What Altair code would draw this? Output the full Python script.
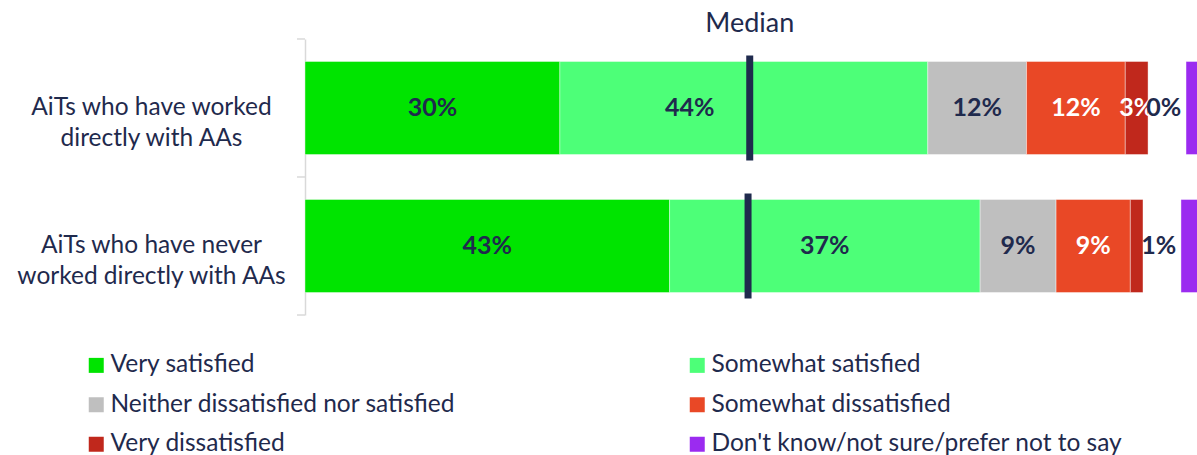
import altair as alt
import pandas as pd

groups = ["AiTs who have worked\ndirectly with AAs", "AiTs who have never\nworked directly with AAs"]
categories = ["Very satisfied", "Somewhat satisfied", "Neither dissatisfied nor satisfied",
              "Somewhat dissatisfied", "Very dissatisfied", "Don't know/not sure/prefer not to say"]
colors = ["#00E400", "#4DFF78", "#BFBFBF", "#E94826", "#C0281C", "#9B2BF0"]
label_colors = ["#1F2A4D", "#1F2A4D", "#1F2A4D", "#FFFFFF", "#FFFFFF"]

worked = [30.2, 43.6, 11.7, 11.7, 2.7]
never = [43.2, 36.8, 9.0, 8.8, 1.5]
worked_labels = ["30%", "44%", "12%", "12%", "3%"]
never_labels = ["43%", "37%", "9%", "9%", ""]
dont_know_labels = ["0%", "1%"]
medians = [52.7, 52.5]

NAVY = "#1F2A4D"
AXIS_GREY = "#D9D9D9"
FONT = "Lato"
XMAX = 105.7
GAP = 4.5

seg_rows, lab_rows = [], []
for g, vals, labs, dk, med in zip(groups, [worked, never], [worked_labels, never_labels],
                                 dont_know_labels, medians):
    s = 0.0
    for cat, v, lab, lc in zip(categories[:5], vals, labs, label_colors):
        seg_rows.append({"group": g, "cat": cat, "start": s, "end": s + v})
        c = s + v / 2
        if abs(c - med) < 3:
            c -= 6.4
        if lab:
            lab_rows.append({"group": g, "x": c, "text": lab, "color": lc, "align": "center"})
        s += v
    seg_rows.append({"group": g, "cat": categories[5], "start": s + GAP, "end": s + GAP + 20})
    lab_rows.append({"group": g, "x": s - 0.2, "text": dk, "color": NAVY, "align": "left"})

seg = pd.DataFrame(seg_rows)
labs_df = pd.DataFrame(lab_rows)
med_df = pd.DataFrame({"group": groups, "median": medians})
grp_df = pd.DataFrame({"group": groups})

yscale = alt.Scale(domain=groups, paddingInner=0.326, paddingOuter=0.163)
yenc = alt.Y("group:N", sort=groups, title=None, scale=yscale,
             axis=alt.Axis(labelExpr="split(datum.label, '\\n')", labelFont=FONT,
                           labelFontSize=24.5, labelColor=NAVY, labelAlign="center",
                           labelBaseline="middle", labelLineHeight=31, labelPadding=154,
                           labelLimit=400, ticks=False, domainColor=AXIS_GREY, domainWidth=1.5))
xscale = alt.Scale(domain=[0, XMAX], nice=False, zero=False)

bars = alt.Chart(seg).mark_bar(clip=True, stroke="white", strokeWidth=0.8, strokeOpacity=0.5).encode(
    x=alt.X("start:Q", scale=xscale, axis=None),
    x2="end:Q",
    y=yenc,
    color=alt.Color("cat:N", scale=alt.Scale(domain=categories, range=colors),
                    legend=alt.Legend(orient="none", legendX=-221, legendY=314, columns=2,
                                      direction="horizontal",
                                      title=None, symbolType="square", symbolSize=225,
                                      symbolStrokeWidth=0, labelFont=FONT, labelFontSize=24.5,
                                      labelColor=NAVY, labelOffset=2, labelLimit=700,
                                      columnPadding=229, rowPadding=14.5)),
)

# band-boundary ticks on the y axis (half the inner padding outside each bar band)
tick_top = alt.Chart(grp_df).mark_rule(color=AXIS_GREY, strokeWidth=1.5, yOffset=-22.5).encode(
    y=alt.Y("group:N", scale=yscale, bandPosition=0, title=None),
    x=alt.value(-8), x2=alt.value(0))
tick_bot = alt.Chart(grp_df.iloc[[-1]]).mark_rule(color=AXIS_GREY, strokeWidth=1.5, yOffset=22.5).encode(
    y=alt.Y("group:N", scale=yscale, bandPosition=1, title=None),
    x=alt.value(-8), x2=alt.value(0))

text_c = alt.Chart(labs_df[labs_df["align"] == "center"]).mark_text(
    fontSize=25, fontWeight="bold", font=FONT, baseline="middle", align="center").encode(
    x=alt.X("x:Q", scale=xscale, axis=None), y=yenc, text="text:N",
    color=alt.Color("color:N", scale=None))
text_l = alt.Chart(labs_df[labs_df["align"] == "left"]).mark_text(
    fontSize=25, fontWeight="bold", font=FONT, baseline="middle", align="left").encode(
    x=alt.X("x:Q", scale=xscale, axis=None), y=yenc, text="text:N",
    color=alt.Color("color:N", scale=None))

ticks = alt.Chart(med_df).mark_tick(thickness=7, size=105, color=NAVY, opacity=1).encode(
    x=alt.X("median:Q", scale=xscale, axis=None), y=yenc)

med_title = alt.Chart(med_df.iloc[[0]]).mark_text(
    text="Median", fontSize=27, font=FONT, color=NAVY, baseline="middle", align="center").encode(
    x=alt.X("median:Q", scale=xscale, axis=None), y=alt.value(-15))

chart = alt.layer(bars, tick_top, tick_bot, text_c, text_l, ticks, med_title).properties(
    width=892, height=276,
    autosize=alt.AutoSizeParams(type="none"),
    padding={"left": 305, "top": 39, "right": 0, "bottom": 140},
    background="white",
).configure_view(stroke=None)

chart.save("out.html", embed_options={"renderer": "svg", "actions": False})
